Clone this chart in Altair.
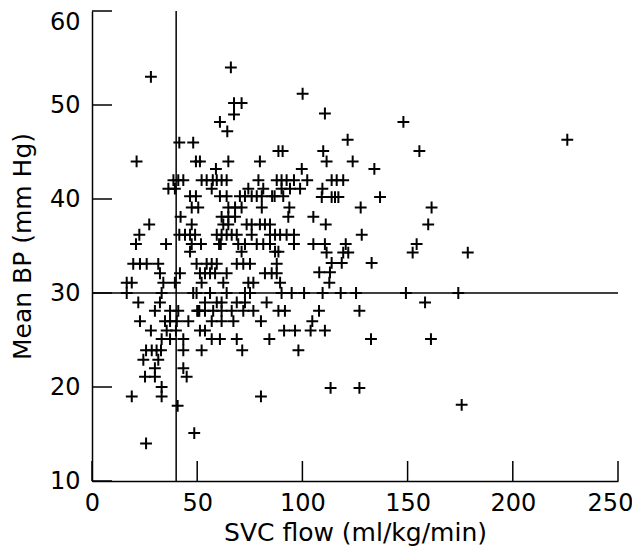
import altair as alt
import pandas as pd

# SVC flow (ml/kg/min) and mean BP (mm Hg)
svc = [28, 66, 67.5, 71.1, 67.5, 60.8, 64.3, 41.5, 48.1, 88.6, 90.6,
       21.2, 49.4, 51.3, 64.8, 79.8, 58.9,
       38.7, 41.0, 43.4, 52.1, 54.5, 57.4, 59.3, 61.6, 64.0, 79.1, 87.8, 90.1, 92.5, 96.0, 102.3, 113.9, 116.3, 119.4,
       36.3, 39.4, 56.9, 74.3, 81.4, 90.1, 94.1, 98.9, 109.5,
       46.6, 49.4, 60.8, 64.0, 70.3, 72.7, 75.9, 78.3, 80.7, 85.6, 86.8, 90.9,
       109.2, 113.9, 115.5, 117.1, 136.9,
       47.4, 50.5, 64.8, 68.0, 71.1, 80.7, 93.8, 127.7, 161.4,
       42.1, 61.6, 64.8, 68.0, 93.3, 105.2,
       27.2, 47.4, 62.4, 64.8, 73.5, 75.9, 79.8, 82.2, 84.6, 111.1, 159.8,
       22.5, 41.5, 44.2, 46.6, 49.0, 59.3, 61.6, 64.0, 66.4, 68.8, 75.9, 84.6, 87.0, 89.4, 92.5, 96.0, 128.2,
       20.9, 35.2, 47.4, 51.8, 60.4, 61.2, 69.5, 72.7, 78.3, 81.4, 84.6, 96.0, 105.2, 110.7, 120.6, 154.3,
       46.6, 71.1, 87.0, 88.6, 111.5, 119.4, 121.8, 152.4, 178.6,
       19.6, 22.8, 26.0, 31.5, 49.7, 54.5, 56.9, 59.3, 68.8, 71.9, 75.1, 87.8, 113.9, 118.7, 132.9,
       32.3, 41.8, 51.3, 53.7, 56.1, 58.5, 64.0, 82.2, 85.4, 87.8, 108.0, 113.1,
       16.5, 18.9, 33.9, 39.4, 52.1, 62.4, 74.3, 76.7, 89.4, 112.8,
       16.5, 33.1, 48.1, 49.7, 56.1, 64.0, 72.7, 75.1, 90.1, 94.9, 100.8, 109.6, 118.2, 125.5, 149.2, 174.1,
       22.0, 32.3, 53.7, 59.3, 61.6, 68.8, 72.7, 83.0, 158.3,
       29.9, 37.1, 41.0, 50.0, 50.5, 51.0, 53.7, 57.6, 61.6, 66.4, 71.9, 76.7, 88.6, 91.7, 107.9, 127.1,
       22.8, 34.7, 37.1, 40.3, 45.8, 56.9, 61.6, 67.2, 80.3, 104.7,
       28.0, 35.5, 39.9, 51.3, 53.7, 91.3, 96.5, 103.9, 110.7,
       33.1, 37.1, 43.4, 56.9, 60.8, 68.8, 84.3, 132.6, 161.1,
       25.7, 28.4, 30.7, 32.8, 43.4, 52.1, 71.4, 98.1,
       24.4, 31.5,
       29.9, 43.4,
       25.2, 29.9, 45.0,
       33.1, 113.4, 127.1,
       18.9, 33.1, 80.3,
       40.7, 175.7,
       48.6,
       25.7,
       100.1, 110.7, 148.0, 121.5, 109.9, 155.6, 111.5, 123.9, 99.7, 134.2, 225.9]

bp = [53, 54, 50.2, 50.2, 49.0, 48.2, 47.2, 46.0, 46.0, 45.1, 45.1,
      44.0, 44.0, 44.0, 44.0, 44.0, 43.2,
      42.0, 42.0, 42.0, 42.0, 42.0, 42.0, 42.0, 42.0, 42.0, 42.0, 42.0, 42.0, 42.0, 42.0, 42.0, 42.0, 42.0, 42.0,
      41.1, 41.1, 41.1, 41.1, 41.1, 41.1, 41.1, 41.1, 41.1,
      40.3, 40.3, 40.3, 40.3, 40.3, 40.3, 40.3, 40.3, 40.3, 40.3, 40.3, 40.3,
      40.2, 40.2, 40.2, 40.2, 40.2,
      39.1, 39.1, 39.1, 39.1, 39.1, 39.1, 39.1, 39.1, 39.1,
      38.1, 38.1, 38.1, 38.1, 38.1, 38.1,
      37.3, 37.3, 37.3, 37.3, 37.3, 37.3, 37.3, 37.3, 37.3, 37.3, 37.3,
      36.2, 36.2, 36.2, 36.2, 36.2, 36.2, 36.2, 36.2, 36.2, 36.2, 36.2, 36.2, 36.2, 36.2, 36.2, 36.2, 36.2,
      35.2, 35.2, 35.2, 35.2, 35.2, 35.2, 35.2, 35.2, 35.2, 35.2, 35.2, 35.2, 35.2, 35.2, 35.2, 35.2,
      34.4, 34.4, 34.4, 34.4, 34.3, 34.3, 34.3, 34.3, 34.3,
      33.1, 33.1, 33.1, 33.1, 33.1, 33.1, 33.1, 33.1, 33.1, 33.1, 33.1, 33.1, 33.2, 33.2, 33.2,
      32.1, 32.1, 32.1, 32.1, 32.1, 32.1, 32.1, 32.1, 32.1, 32.1, 32.2, 32.2,
      31.1, 31.1, 31.1, 31.1, 31.1, 31.1, 31.1, 31.1, 31.1, 31.1,
      30.0, 30.0, 30.0, 30.0, 30.0, 30.0, 30.0, 30.0, 30.0, 30.0, 30.0, 30.0, 30.0, 30.0, 30.0, 30.0,
      29.0, 29.0, 29.0, 29.0, 29.0, 29.0, 29.0, 29.0, 29.0,
      28.1, 28.1, 28.1, 28.1, 28.1, 28.1, 28.1, 28.1, 28.1, 28.1, 28.1, 28.1, 28.1, 28.1, 28.1, 28.1,
      27.0, 27.0, 27.0, 27.0, 27.0, 27.0, 27.0, 27.0, 27.0, 27.0,
      26.0, 26.0, 26.0, 26.0, 26.0, 26.0, 26.0, 26.0, 26.0,
      25.1, 25.1, 25.1, 25.1, 25.1, 25.1, 25.1, 25.1, 25.1,
      23.9, 23.9, 23.9, 23.9, 23.9, 23.9, 23.9, 23.9,
      22.9, 22.9,
      22.0, 22.0,
      21.1, 21.1, 21.1,
      20.0, 19.9, 19.9,
      19.0, 19.0, 19.0,
      18.0, 18.1,
      15.1,
      14.0,
      51.2, 49.1, 48.2, 46.3, 45.1, 45.1, 44.0, 44.0, 43.2, 43.2, 46.3]

x_ticks = [0, 50, 100, 150, 200, 250]
y_ticks = [10, 20, 30, 40, 50, 60]
x_cut = [40]
y_cut = [30]

W, H = 526, 470
FONT = "DejaVu Sans"

pts = pd.DataFrame({"svc": svc, "bp": bp})
xs = alt.Scale(domain=[0, 250], nice=False, zero=False)
ys = alt.Scale(domain=[10, 60], nice=False, zero=False)

xaxis = alt.Axis(values=x_ticks, title="SVC flow (ml/kg/min)", ticks=False, tickSize=0,
                 grid=False, labelPadding=10, labelFlush=False,
                 labelOffset=alt.ExprRef(expr="datum.value == 250 ? -8 : 0"),
                 titleX=W / 2, titleY=59,
                 titleBaseline="alphabetic", titleAlign="center")
yaxis = alt.Axis(values=y_ticks, title="Mean BP (mm Hg)", ticks=False, tickSize=0,
                 grid=False, labelPadding=12, labelFlush=False,
                 labelBaseline=alt.ExprRef(expr="datum.value == 60 ? 'top' : 'middle'"),
                 labelOffset=alt.ExprRef(expr="datum.value == 60 ? -1 : 0"),
                 titleX=-62, titleY=H / 2, titleAngle=-90,
                 titleBaseline="alphabetic", titleAlign="center")

points = alt.Chart(pts).mark_point(
    shape="M-1,0L1,0M0,-1L0,1", size=140, filled=False,
    stroke="black", strokeWidth=2, opacity=1,
).encode(
    x=alt.X("svc:Q", scale=xs, axis=xaxis),
    y=alt.Y("bp:Q", scale=ys, axis=yaxis),
)

vline = alt.Chart(pd.DataFrame({"v": x_cut})).mark_rule(color="black", strokeWidth=1.5).encode(
    x=alt.X("v:Q", scale=xs))
hline = alt.Chart(pd.DataFrame({"v": y_cut})).mark_rule(color="black", strokeWidth=1.5).encode(
    y=alt.Y("v:Q", scale=ys))

xt = alt.Chart(pd.DataFrame({"t": x_ticks})).mark_rule(color="black", strokeWidth=1.5).encode(
    x=alt.X("t:Q", scale=xs), y=alt.value(H - 20), y2=alt.value(H))
yt = alt.Chart(pd.DataFrame({"t": y_ticks})).mark_rule(color="black", strokeWidth=1.5).encode(
    y=alt.Y("t:Q", scale=ys), x=alt.value(0), x2=alt.value(20))

chart = alt.layer(vline, hline, xt, yt, points).properties(
    width=W, height=H,
    autosize=alt.AutoSizeParams(type="none"),
    padding={"left": 84, "top": 3, "right": 14, "bottom": 66},
).configure_view(stroke=None).configure_axis(
    domainColor="black", domainWidth=1.5,
    labelFont=FONT, labelFontSize=24, labelColor="black",
    titleFont=FONT, titleFontSize=25, titleFontWeight="normal", titleColor="black",
)

chart.save("out.html", embed_options={"renderer": "svg", "actions": False})
